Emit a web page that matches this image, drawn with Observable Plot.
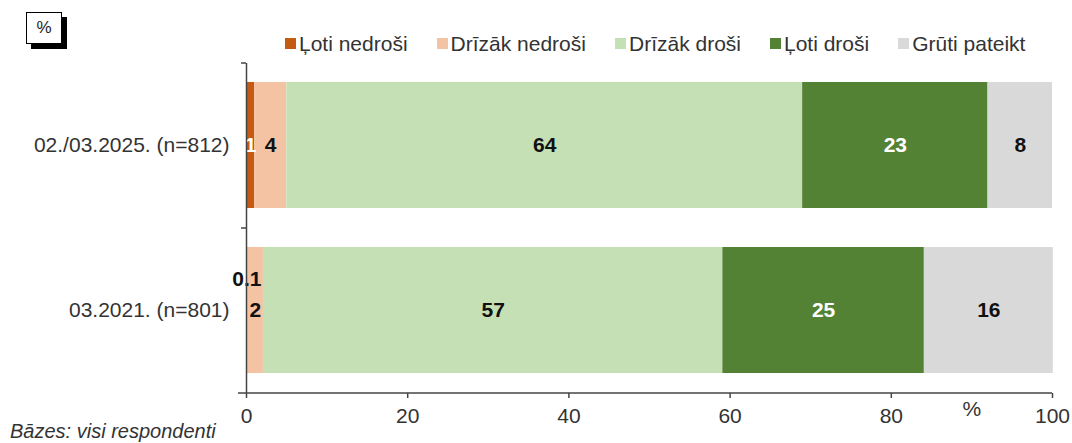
<!DOCTYPE html>
<html>
<head>
<meta charset="utf-8">
<script src="https://cdn.jsdelivr.net/npm/d3@7"></script>
<script src="https://cdn.jsdelivr.net/npm/@observablehq/plot@0.6"></script>
<style>
  html, body { margin: 0; padding: 0; background: #fff; }
  #wrap { position: relative; width: 1072px; height: 443px; overflow: hidden;
          font-family: "Liberation Sans", Arial, sans-serif; color: #333; }
  #header { position: relative; height: 50px; }
  #pctbox { position: absolute; left: 26px; top: 12px; width: 34px; height: 30px;
            border: 1px solid #000; background: #fff; box-shadow: 5px 5px 0 #000;
            font-size: 17px; line-height: 30px; text-align: center; color: #222; }
  #legend { position: absolute; left: 285px; top: 32px; display: flex; gap: 29px;
            font-size: 21px; line-height: 23px; white-space: nowrap; }
  .item { display: flex; align-items: center; }
  .sw { width: 11px; height: 11px; margin-right: 3px; }
  #caption { position: absolute; left: 10px; top: 421px; font-size: 20px; line-height: 20px;
             font-style: italic; color: #333; white-space: nowrap; }
</style>
</head>
<body>
<div id="wrap">
  <div id="header">
    <div id="pctbox">%</div>
    <div id="legend"></div>
  </div>
  <div id="chart"></div>
  <div id="caption">Bāzes: visi respondenti</div>
</div>
<script>
const periods = ["02./03.2025. (n=812)", "03.2021. (n=801)"];
const categories = ["Ļoti nedroši", "Drīzāk nedroši", "Drīzāk droši", "Ļoti droši", "Grūti pateikt"];
const colors = ["#C55A11", "#F4C3A4", "#C5E0B4", "#548235", "#D9D9D9"];
const values2025 = [1, 4, 64, 23, 8];
const values2021 = [0.1, 2, 57, 25, 16];
const xTicks = [0, 20, 40, 60, 80, 100];
const whiteLabelCats = ["Ļoti nedroši", "Ļoti droši"];

const series = [values2025, values2021];
const data = periods.flatMap((p, i) =>
  categories.map((c, j) => ({period: p, category: c, value: series[i][j]})));

// legend
const legend = document.getElementById("legend");
categories.forEach((c, i) => {
  const it = document.createElement("div");
  it.className = "item";
  const sw = document.createElement("span");
  sw.className = "sw";
  sw.style.background = colors[i];
  const tx = document.createElement("span");
  tx.textContent = c;
  it.appendChild(sw); it.appendChild(tx);
  legend.appendChild(it);
});

const fmt = v => String(v);
const isWhite = d => whiteLabelCats.includes(d.category);
const axisColor = "#444";

const chart = Plot.plot({
  width: 1072,
  height: 380,
  marginLeft: 246,
  marginRight: 20,
  marginTop: 13,
  marginBottom: 37,
  style: {fontFamily: "'Liberation Sans', Arial, sans-serif", fontSize: "21px", color: "#333", background: "transparent"},
  x: {domain: [0, 100]},
  y: {domain: periods, paddingInner: 0.236, paddingOuter: 0.118},
  color: {domain: categories, range: colors},
  marks: [
    Plot.barX(data, {x: "value", y: "period", fill: "category"}),
    Plot.text(data, Plot.stackX({x: "value", y: "period",
      text: d => (!isWhite(d) && d.value >= 0.5) ? fmt(d.value) : null,
      fill: "#111", fontWeight: "bold", fontSize: 21})),
    Plot.text(data, Plot.stackX({x: "value", y: "period",
      text: d => (isWhite(d) && d.value >= 0.5) ? fmt(d.value) : null,
      fill: "white", fontWeight: "bold", fontSize: 21})),
    Plot.text(data, Plot.stackX({x: "value", y: "period",
      text: d => d.value < 0.5 ? fmt(d.value) : null,
      fill: "#111", fontWeight: "bold", fontSize: 21, dy: -31})),
    // y axis line and category-boundary ticks
    Plot.ruleX([0], {stroke: axisColor, strokeWidth: 1.5}),
    Plot.ruleY(periods, {y: d => d, x1: -0.62, x2: 0, dy: -82.5, stroke: axisColor, strokeWidth: 1.5}),
    Plot.ruleY([periods[periods.length - 1]], {y: d => d, x1: -1, x2: 100, dy: 82.5, stroke: axisColor, strokeWidth: 1.5}),
    Plot.axisY({tickSize: 0, tickPadding: 17, fontSize: 21, label: null}),
    Plot.axisX({ticks: xTicks, tickSize: 5, tickPadding: 10, stroke: axisColor, strokeWidth: 1.5, fontSize: 21, label: null}),
    Plot.text(["%"], {x: () => 90, frameAnchor: "bottom", dy: 22, fontSize: 21, fill: "#333"})
  ]
});
document.getElementById("chart").appendChild(chart);
</script>
</body>
</html>
